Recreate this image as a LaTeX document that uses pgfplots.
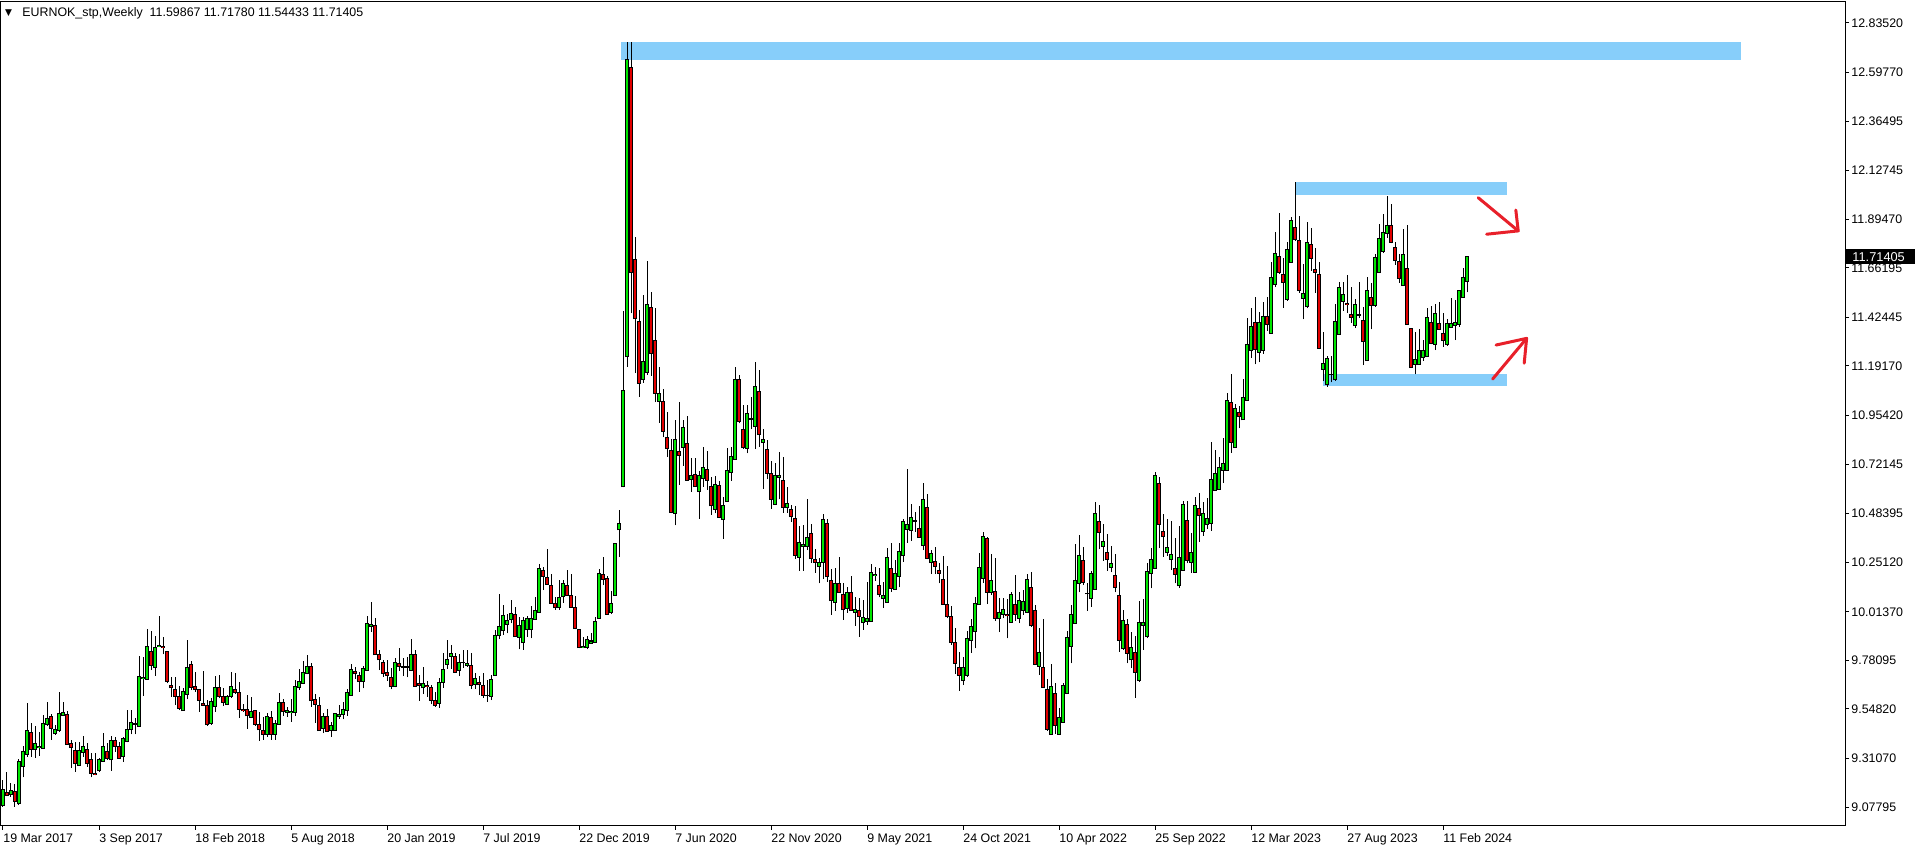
\documentclass[border=0pt]{standalone}
\usepackage{fontspec}
\setmainfont{Liberation Sans}
\newfontfamily\symfont{DejaVu Sans}
\usepackage{pgfplots}
\usepackage{pgfplotstable}
\pgfplotsset{compat=1.18}
\definecolor{bull}{RGB}{0,230,0}
\definecolor{bear}{RGB}{225,0,0}
\definecolor{zone}{RGB}{135,206,250}
\definecolor{pen}{RGB}{232,32,42}

% weekly candles, k = weeks since 19 Mar 2017
\pgfplotstableread{
k O H L C
0 9.088 9.208 9.080 9.163
1 9.149 9.246 9.131 9.134
2 9.139 9.192 9.128 9.160
3 9.154 9.189 9.080 9.106
4 9.093 9.307 9.088 9.297
5 9.272 9.371 9.221 9.345
6 9.331 9.575 9.320 9.446
7 9.436 9.479 9.320 9.353
8 9.353 9.467 9.315 9.384
9 9.363 9.438 9.324 9.369
10 9.358 9.519 9.358 9.479
11 9.473 9.580 9.468 9.503
12 9.510 9.522 9.400 9.455
13 9.430 9.471 9.424 9.451
14 9.443 9.628 9.439 9.527
15 9.516 9.582 9.515 9.532
16 9.523 9.539 9.379 9.379
17 9.385 9.400 9.267 9.363
18 9.350 9.392 9.248 9.286
19 9.277 9.392 9.277 9.350
20 9.339 9.417 9.320 9.369
21 9.355 9.385 9.272 9.286
22 9.307 9.339 9.221 9.240
23 9.241 9.336 9.230 9.234
24 9.253 9.312 9.248 9.307
25 9.297 9.432 9.297 9.369
26 9.345 9.384 9.304 9.310
27 9.305 9.420 9.253 9.398
28 9.398 9.416 9.344 9.368
29 9.369 9.392 9.308 9.312
30 9.320 9.416 9.296 9.408
31 9.392 9.543 9.388 9.451
32 9.451 9.543 9.427 9.484
33 9.475 9.505 9.427 9.479
34 9.465 9.804 9.464 9.705
35 9.694 9.799 9.611 9.701
36 9.690 9.930 9.690 9.848
37 9.826 9.922 9.735 9.756
38 9.748 9.896 9.708 9.844
39 9.847 9.994 9.844 9.853
40 9.848 9.895 9.810 9.842
41 9.825 9.828 9.671 9.679
42 9.663 9.700 9.607 9.650
43 9.644 9.700 9.567 9.607
44 9.609 9.658 9.543 9.550
45 9.540 9.647 9.540 9.634
46 9.617 9.879 9.594 9.748
47 9.762 9.780 9.639 9.650
48 9.657 9.724 9.631 9.642
49 9.642 9.645 9.535 9.588
50 9.575 9.730 9.564 9.566
51 9.566 9.591 9.468 9.473
52 9.478 9.599 9.472 9.585
53 9.559 9.706 9.535 9.649
54 9.649 9.713 9.599 9.606
55 9.610 9.647 9.564 9.580
56 9.569 9.615 9.567 9.606
57 9.607 9.726 9.603 9.654
58 9.642 9.722 9.619 9.626
59 9.628 9.676 9.507 9.547
60 9.548 9.572 9.535 9.539
61 9.545 9.615 9.454 9.515
62 9.508 9.607 9.504 9.537
63 9.539 9.542 9.468 9.473
64 9.475 9.532 9.396 9.448
65 9.443 9.511 9.400 9.427
66 9.427 9.531 9.416 9.513
67 9.508 9.539 9.400 9.427
68 9.427 9.496 9.400 9.480
69 9.475 9.627 9.472 9.580
70 9.580 9.596 9.516 9.535
71 9.531 9.559 9.511 9.543
72 9.532 9.594 9.488 9.537
73 9.532 9.687 9.516 9.658
74 9.652 9.740 9.639 9.678
75 9.671 9.778 9.667 9.724
76 9.718 9.807 9.714 9.754
77 9.754 9.767 9.559 9.588
78 9.596 9.620 9.483 9.570
79 9.567 9.604 9.444 9.444
80 9.454 9.527 9.432 9.513
81 9.513 9.548 9.438 9.440
82 9.443 9.486 9.416 9.468
83 9.444 9.527 9.444 9.527
84 9.510 9.566 9.502 9.524
85 9.521 9.583 9.499 9.548
86 9.540 9.642 9.516 9.628
87 9.614 9.766 9.614 9.738
88 9.729 9.751 9.694 9.716
89 9.711 9.724 9.631 9.679
90 9.679 9.754 9.647 9.743
91 9.735 9.992 9.732 9.959
92 9.943 10.061 9.919 9.955
93 9.946 9.983 9.808 9.808
94 9.810 9.831 9.735 9.783
95 9.772 9.783 9.703 9.719
96 9.721 9.783 9.684 9.708
97 9.700 9.743 9.642 9.655
98 9.655 9.791 9.652 9.772
99 9.764 9.841 9.732 9.751
100 9.749 9.791 9.706 9.750
101 9.750 9.799 9.700 9.749
102 9.735 9.884 9.730 9.810
103 9.810 9.831 9.655 9.658
104 9.668 9.711 9.588 9.660
105 9.650 9.749 9.620 9.671
106 9.663 9.682 9.607 9.657
107 9.652 9.663 9.570 9.591
108 9.587 9.631 9.559 9.564
109 9.575 9.695 9.555 9.676
110 9.676 9.815 9.650 9.738
111 9.762 9.879 9.741 9.786
112 9.800 9.853 9.741 9.812
113 9.800 9.818 9.721 9.724
114 9.733 9.810 9.708 9.772
115 9.770 9.831 9.746 9.771
116 9.756 9.831 9.751 9.767
117 9.758 9.815 9.644 9.662
118 9.666 9.719 9.644 9.695
119 9.676 9.706 9.615 9.665
120 9.663 9.719 9.602 9.614
121 9.615 9.687 9.583 9.611
122 9.607 9.711 9.591 9.690
123 9.711 9.927 9.708 9.901
124 9.898 10.099 9.882 9.943
125 9.922 10.047 9.903 9.994
126 9.954 10.003 9.911 9.970
127 9.978 10.070 9.959 10.006
128 10.003 10.038 9.895 9.895
129 9.892 9.991 9.834 9.946
130 9.866 9.991 9.831 9.970
131 9.927 9.995 9.895 9.983
132 9.930 10.042 9.887 9.983
133 9.978 10.085 9.978 10.018
134 10.010 10.243 10.010 10.222
135 10.214 10.230 10.118 10.182
136 10.179 10.315 10.146 10.146
137 10.142 10.195 10.055 10.055
138 10.055 10.086 10.023 10.034
139 10.034 10.166 10.023 10.083
140 10.086 10.166 10.058 10.150
141 10.138 10.214 10.090 10.090
142 10.090 10.193 10.035 10.035
143 10.035 10.090 9.930 9.933
144 9.930 9.930 9.839 9.842
145 9.845 9.895 9.839 9.850
146 9.842 9.900 9.834 9.879
147 9.864 9.911 9.862 9.874
148 9.869 9.991 9.866 9.967
149 9.981 10.219 9.981 10.198
150 10.195 10.275 10.142 10.170
151 10.174 10.185 10.002 10.002
152 10.010 10.115 10.003 10.055
153 10.094 10.339 10.094 10.339
154 10.406 10.502 10.278 10.435
155 10.614 11.455 10.610 11.072
156 11.236 12.744 11.189 12.661
157 12.623 12.744 11.444 11.639
158 11.700 11.810 11.157 11.419
159 11.407 11.460 11.045 11.109
160 11.128 11.532 11.112 11.214
161 11.161 11.695 11.150 11.484
162 11.474 11.545 11.144 11.252
163 11.315 11.471 11.018 11.061
164 11.022 11.185 10.920 11.061
165 11.022 11.080 10.850 10.879
166 10.850 10.971 10.757 10.796
167 10.788 10.842 10.486 10.492
168 10.486 10.933 10.428 10.840
169 10.783 11.019 10.623 10.762
170 10.802 10.933 10.713 10.898
171 10.821 10.952 10.644 10.644
172 10.649 10.751 10.590 10.668
173 10.673 10.751 10.614 10.614
174 10.590 10.689 10.460 10.668
175 10.652 10.802 10.614 10.706
176 10.697 10.783 10.598 10.644
177 10.612 10.658 10.479 10.522
178 10.505 10.663 10.486 10.625
179 10.620 10.642 10.463 10.467
180 10.457 10.562 10.364 10.521
181 10.542 10.799 10.542 10.692
182 10.682 10.802 10.642 10.759
183 10.745 11.185 10.745 11.125
184 11.125 11.150 10.917 10.927
185 10.888 11.003 10.793 10.799
186 10.796 11.003 10.773 10.965
187 10.939 11.045 10.888 10.936
188 10.901 11.209 10.793 11.094
189 11.070 11.173 10.805 10.863
190 10.826 10.888 10.604 10.840
191 10.793 10.837 10.649 10.677
192 10.677 10.735 10.508 10.553
193 10.529 10.725 10.529 10.668
194 10.658 10.780 10.553 10.668
195 10.644 10.754 10.489 10.515
196 10.515 10.614 10.489 10.534
197 10.505 10.527 10.446 10.470
198 10.462 10.521 10.269 10.285
199 10.275 10.425 10.211 10.347
200 10.326 10.430 10.211 10.338
201 10.329 10.554 10.310 10.371
202 10.390 10.435 10.249 10.267
203 10.265 10.313 10.201 10.249
204 10.230 10.270 10.150 10.251
205 10.251 10.483 10.170 10.457
206 10.438 10.457 10.158 10.182
207 10.162 10.217 9.999 10.067
208 10.058 10.222 10.019 10.150
209 10.150 10.275 10.106 10.106
210 10.099 10.150 9.975 10.023
211 10.029 10.134 10.010 10.107
212 10.107 10.186 10.019 10.019
213 10.010 10.086 9.948 10.026
214 10.021 10.081 9.895 9.991
215 9.962 10.071 9.927 9.987
216 9.967 10.158 9.951 9.984
217 9.967 10.241 9.967 10.203
218 10.189 10.227 10.163 10.195
219 10.138 10.222 10.083 10.098
220 10.077 10.158 10.034 10.090
221 10.059 10.318 10.059 10.275
222 10.222 10.345 10.110 10.125
223 10.122 10.262 10.122 10.198
224 10.182 10.342 10.131 10.305
225 10.283 10.457 10.254 10.446
226 10.409 10.700 10.345 10.433
227 10.403 10.531 10.355 10.467
228 10.447 10.494 10.398 10.449
229 10.414 10.521 10.371 10.371
230 10.331 10.630 10.310 10.550
231 10.515 10.578 10.265 10.270
232 10.249 10.310 10.195 10.294
233 10.254 10.326 10.195 10.230
234 10.211 10.249 10.150 10.198
235 10.171 10.281 10.047 10.051
236 10.050 10.233 9.983 9.991
237 9.991 10.042 9.855 9.868
238 9.866 9.935 9.716 9.767
239 9.746 9.823 9.636 9.711
240 9.684 9.799 9.663 9.748
241 9.711 9.924 9.703 9.887
242 9.876 9.978 9.818 9.943
243 9.919 10.086 9.839 10.055
244 10.047 10.297 10.047 10.227
245 10.174 10.398 10.154 10.377
246 10.366 10.374 10.051 10.107
247 10.107 10.291 10.095 10.163
248 10.110 10.270 9.971 9.983
249 9.983 10.078 9.916 10.011
250 10.003 10.078 9.983 10.026
251 10.003 10.074 9.887 9.995
252 9.962 10.110 9.962 10.098
253 10.050 10.190 9.970 10.003
254 9.983 10.110 9.960 10.067
255 10.019 10.118 9.999 10.061
256 10.011 10.195 10.007 10.171
257 10.131 10.203 9.943 9.947
258 10.018 10.047 9.762 9.762
259 9.754 9.935 9.711 9.820
260 9.748 9.979 9.652 9.652
261 9.643 9.690 9.444 9.451
262 9.428 9.762 9.424 9.655
263 9.623 9.674 9.428 9.467
264 9.428 9.551 9.424 9.508
265 9.484 9.674 9.484 9.660
266 9.623 9.924 9.623 9.892
267 9.847 10.047 9.767 9.999
268 9.959 10.339 9.959 10.162
269 10.150 10.382 10.107 10.285
270 10.259 10.323 10.142 10.155
271 10.100 10.150 10.019 10.102
272 10.078 10.211 10.039 10.198
273 10.123 10.539 10.123 10.483
274 10.446 10.526 10.313 10.395
275 10.326 10.435 10.259 10.353
276 10.299 10.387 10.211 10.265
277 10.227 10.329 10.203 10.246
278 10.190 10.291 10.107 10.131
279 10.090 10.155 9.823 9.876
280 9.836 10.023 9.831 9.970
281 9.951 9.979 9.767 9.815
282 9.783 9.916 9.743 9.844
283 9.820 9.898 9.603 9.724
284 9.684 10.067 9.679 9.963
285 9.948 10.075 9.831 9.963
286 9.895 10.246 9.887 10.209
287 10.198 10.318 10.126 10.265
288 10.222 10.685 10.222 10.669
289 10.630 10.661 10.321 10.433
290 10.398 10.483 10.278 10.374
291 10.299 10.459 10.283 10.323
292 10.265 10.449 10.214 10.289
293 10.219 10.366 10.150 10.193
294 10.138 10.425 10.130 10.275
295 10.214 10.546 10.214 10.526
296 10.449 10.546 10.246 10.262
297 10.251 10.390 10.201 10.299
298 10.203 10.566 10.203 10.521
299 10.507 10.582 10.350 10.473
300 10.398 10.539 10.379 10.483
301 10.430 10.558 10.411 10.462
302 10.438 10.826 10.403 10.649
303 10.594 10.789 10.594 10.677
304 10.602 10.757 10.602 10.706
305 10.693 10.845 10.633 10.725
306 10.693 11.061 10.689 11.026
307 11.018 11.153 10.776 10.826
308 10.800 11.010 10.800 10.987
309 10.970 10.999 10.893 10.949
310 10.933 11.128 10.933 11.042
311 11.026 11.420 11.026 11.296
312 11.268 11.470 11.232 11.380
313 11.400 11.520 11.200 11.272
314 11.257 11.450 11.209 11.400
315 11.268 11.500 11.250 11.430
316 11.430 11.520 11.360 11.390
317 11.348 11.692 11.348 11.617
318 11.580 11.832 11.569 11.732
319 11.716 11.923 11.633 11.639
320 11.631 11.708 11.471 11.593
321 11.511 11.787 11.505 11.751
322 11.688 11.907 11.688 11.891
323 11.856 12.072 11.792 11.799
324 11.792 11.910 11.543 11.553
325 11.516 11.680 11.415 11.537
326 11.476 11.883 11.468 11.784
327 11.775 11.851 11.649 11.708
328 11.655 11.755 11.543 11.641
329 11.631 11.688 11.272 11.276
330 11.176 11.356 11.121 11.205
331 11.104 11.241 11.093 11.229
332 11.150 11.241 11.113 11.152
333 11.125 11.489 11.120 11.404
334 11.343 11.596 11.343 11.569
335 11.500 11.596 11.457 11.535
336 11.492 11.628 11.447 11.487
337 11.439 11.569 11.399 11.425
338 11.385 11.513 11.375 11.487
339 11.436 11.593 11.423 11.438
340 11.412 11.473 11.196 11.308
341 11.217 11.620 11.217 11.551
342 11.519 11.588 11.367 11.481
343 11.481 11.728 11.476 11.712
344 11.639 11.872 11.639 11.803
345 11.740 11.920 11.732 11.832
346 11.827 12.006 11.807 11.864
347 11.864 11.968 11.779 11.784
348 11.760 11.784 11.676 11.696
349 11.692 11.728 11.591 11.612
350 11.577 11.847 11.577 11.727
351 11.660 11.867 11.388 11.391
352 11.372 11.372 11.181 11.184
353 11.200 11.356 11.152 11.224
354 11.200 11.367 11.200 11.264
355 11.233 11.316 11.217 11.264
356 11.236 11.468 11.236 11.425
357 11.401 11.479 11.295 11.300
358 11.296 11.489 11.268 11.444
359 11.396 11.497 11.364 11.367
360 11.348 11.444 11.284 11.313
361 11.296 11.417 11.288 11.396
362 11.377 11.516 11.377 11.396
363 11.385 11.508 11.316 11.401
364 11.391 11.556 11.380 11.551
365 11.519 11.660 11.519 11.617
366 11.59867 11.71780 11.54433 11.71405
}\eurnok

% error bars only; the point marks themselves are made invisible
\pgfplotsset{
  candle/.style={only marks, mark=*, mark size=0pt, mark options={opacity=0}},
}

\begin{document}
\begin{tikzpicture}
\begin{axis}[
  at={(0,0)}, anchor=south west,
  scale only axis, width=922pt, height=412pt,
  xmin=-0.5, xmax=460.5, ymin=8.9876, ymax=12.9358,
  clip=false,
  axis line style={line width=0.5pt},
  xtick={0,24,...,360},
  xticklabels={19 Mar 2017, 3 Sep 2017, 18 Feb 2018, 5 Aug 2018, 20 Jan 2019, 7 Jul 2019, 22 Dec 2019, 7 Jun 2020, 22 Nov 2020, 9 May 2021, 24 Oct 2021, 10 Apr 2022, 25 Sep 2022, 12 Mar 2023, 27 Aug 2023, 11 Feb 2024},
  ytick={9.07795,9.31070,9.54820,9.78095,10.01370,10.25120,10.48395,10.72145,10.95420,11.19170,11.42445,11.66195,11.89470,12.12745,12.36495,12.59770,12.83520},
  yticklabels={9.07795,9.31070,9.54820,9.78095,10.01370,10.25120,10.48395,10.72145,10.95420,11.19170,11.42445,11.66195,11.89470,12.12745,12.36495,12.59770,12.83520},
  xtick pos=bottom, ytick pos=right, yticklabel pos=right,
  tick align=outside, major tick length=2pt,
  tick style={black, line width=0.5pt},
  tick label style={font=\fontsize{6.2}{7}\selectfont},
  xticklabel style={anchor=north west, inner sep=0pt, text height=4.4pt, text depth=1pt, yshift=-1.5pt},
  yticklabel style={anchor=west, inner sep=0pt, xshift=1pt},
]
\fill[zone] (axis cs:154.6,12.658) rectangle (axis cs:434.5,12.744);
\fill[zone] (axis cs:323,12.011) rectangle (axis cs:376,12.073);
\fill[zone] (axis cs:330,11.097) rectangle (axis cs:376,11.153);

% wicks
\addplot[candle, error bars/.cd, y dir=plus, y explicit, error mark=none,
  error bar style={line width=0.5pt, draw=black}]
  table[x=k, y=L, y error plus expr={\thisrow{H}-\thisrow{L}}] {\eurnok};
% body outline
\addplot[candle, error bars/.cd, y dir=plus, y explicit, error mark=none,
  error bar style={line width=1.6pt, draw=black}]
  table[x=k, y expr={min(\thisrow{O},\thisrow{C})-0.0024}, y error plus expr={abs(\thisrow{C}-\thisrow{O})+0.0048}] {\eurnok};
% up bodies
\addplot[candle, restrict expr to domain={\thisrow{C}-\thisrow{O}}{0:5},
  error bars/.cd, y dir=plus, y explicit, error mark=none,
  error bar style={line width=0.85pt, draw=bull}]
  table[x=k, y expr={min(\thisrow{O},\thisrow{C})+0.0024}, y error plus expr={max(abs(\thisrow{C}-\thisrow{O})-0.0048,0)}] {\eurnok};
% down bodies
\addplot[candle, restrict expr to domain={\thisrow{C}-\thisrow{O}}{-5:-0.00001},
  error bars/.cd, y dir=plus, y explicit, error mark=none,
  error bar style={line width=0.85pt, draw=bear}]
  table[x=k, y expr={min(\thisrow{O},\thisrow{C})+0.0024}, y error plus expr={max(abs(\thisrow{C}-\thisrow{O})-0.0048,0)}] {\eurnok};

% hand-drawn arrows
\draw[pen, line width=1.5pt, line cap=round, line join=round]
  (axis cs:368.8,11.998) -- (axis cs:378.8,11.839);
\draw[pen, line width=1.5pt, line cap=round, line join=round]
  (axis cs:370.9,11.823) -- (axis cs:378.8,11.839) -- (axis cs:378.2,11.939);
\draw[pen, line width=1.5pt, line cap=round, line join=round]
  (axis cs:372.4,11.129) -- (axis cs:380.9,11.324);
\draw[pen, line width=1.5pt, line cap=round, line join=round]
  (axis cs:373.25,11.292) -- (axis cs:380.9,11.324) -- (axis cs:380.3,11.205);

% current price marker
\node[anchor=west, fill=black, text=white, inner xsep=3.5pt, inner ysep=0pt,
  minimum height=7.5pt, text width=28pt, font=\fontsize{6.4}{7}\selectfont]
  at (axis cs:460.5,11.71405) {11.71405};

% header
\node[anchor=west, inner sep=0pt, font=\symfont\fontsize{4.5}{5}\selectfont, xshift=1.8pt, yshift=-5.5pt]
  at (rel axis cs:0,1) {▼};
\node[anchor=west, inner sep=0pt, font=\fontsize{6.2}{7}\selectfont, xshift=10.5pt, yshift=-5.5pt]
  at (rel axis cs:0,1) {EURNOK\_stp,Weekly\hspace{3.5pt}11.59867 11.71780 11.54433 11.71405};
\end{axis}
\pgfresetboundingbox
\path[use as bounding box] (-0.5pt,-12pt) rectangle (957.5pt,413pt);
\end{tikzpicture}
\end{document}
